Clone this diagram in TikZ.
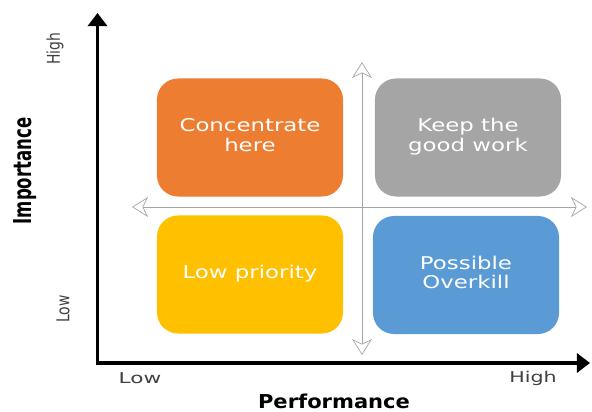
\documentclass[tikz,border=0pt]{standalone}
\usepackage{fontspec}
\setmainfont{DejaVu Sans}
\usetikzlibrary{arrows.meta}
\definecolor{quadorange}{HTML}{ED7D31}
\definecolor{quadgray}{HTML}{A5A5A5}
\definecolor{quadyellow}{HTML}{FFC000}
\definecolor{quadblue}{HTML}{5B9BD5}
\definecolor{labelgray}{HTML}{404040}
\newcommand{\boxtext}[1]{\scalebox{1.3}[1]{\begin{tabular}{@{}c@{}}#1\end{tabular}}}

\begin{document}
\begin{tikzpicture}[x=0.025cm, y=-0.025cm,
    quad/.style={rounded corners=15pt, minimum width=4.65cm, minimum height=2.95cm,
        inner sep=0pt, text=white, font=\fontsize{12.5}{14}\selectfont},
    axis/.style={line width=2.8pt, {Triangle[length=0.33cm, width=0.48cm]}-{Triangle[length=0.33cm, width=0.48cm]}},
    cross/.style={line width=0.5pt, gray!70, {Stealth[open, length=0.4cm, width=0.5cm, inset=0.12cm]}-{Stealth[open, length=0.4cm, width=0.5cm, inset=0.12cm]}},
    level/.style={text=labelgray, inner sep=0pt}]
    \useasboundingbox (0,0) rectangle (592,412);

    % axes
    \coordinate (ytip) at (97.5,13);
    \coordinate (origin) at (97.5,363);
    \coordinate (xtip) at (590,363);
    \draw[axis] (ytip) -- (origin) -- (xtip);

    % quadrants
    \node[quad, fill=quadorange] (concentrate) at (250,137.5) {\boxtext{Concentrate\\here}};
    \node[quad, fill=quadgray] (keep) at (468,137.5) {\boxtext{Keep the\\good work}};
    \node[quad, fill=quadyellow] (lowprio) at (250,274.5) {\boxtext{Low priority}};
    \node[quad, fill=quadblue] (overkill) at (466,275) {\boxtext{Possible\\Overkill}};

    % dividers
    \coordinate (west) at (132,207);
    \coordinate (east) at (587,207);
    \coordinate (north) at (362,62);
    \coordinate (south) at (362,355);
    \draw[cross] (west) -- (east);
    \draw[cross] (north) -- (south);

    % labels
    \node[level, rotate=90, font=\fontsize{9.9}{12}\selectfont] (yhigh) at (55,49) {\scalebox{1}[1.27]{High}};
    \node[level, rotate=90, font=\fontsize{9.9}{12}\selectfont] (ylow) at (63,309) {\scalebox{1}[1.27]{Low}};
    \node[level, font=\fontsize{10.6}{12}\selectfont] (xlow) at (140,378) {\scalebox{1.45}[1]{Low}};
    \node[level, font=\fontsize{10.6}{12}\selectfont] (xhigh) at (533,378) {\scalebox{1.38}[1]{High}};
    \node[inner sep=0pt, rotate=90, font=\bfseries\fontsize{13.5}{15}\selectfont] (importance) at (25,171) {\scalebox{0.87}[1.3]{Importance}};
    \node[inner sep=0pt, font=\bfseries\fontsize{13.6}{15}\selectfont] (performance) at (334,401) {\scalebox{1.1}[1]{Performance}};
\end{tikzpicture}
\end{document}
